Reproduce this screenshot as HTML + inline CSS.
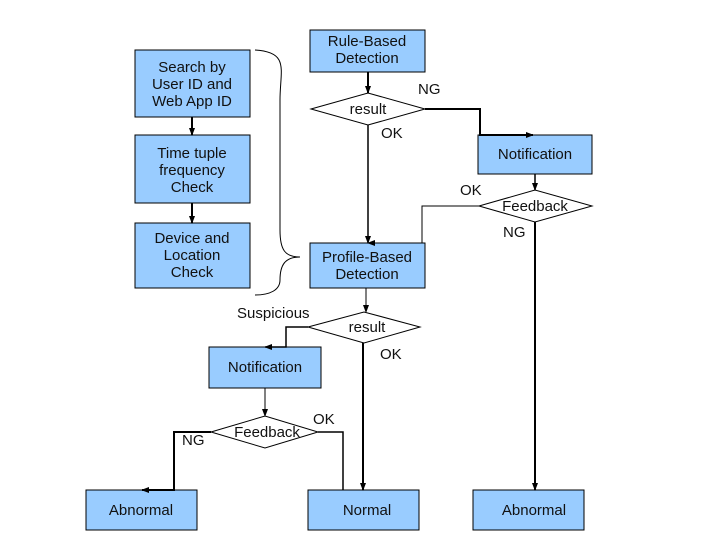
<!DOCTYPE html>
<html><head><meta charset="utf-8"><style>
body{margin:0;background:#fff}
svg text{font-family:"Liberation Sans",sans-serif;font-size:15px;fill:#111}
</style></head><body>
<svg width="720" height="540" viewBox="0 0 720 540" xmlns="http://www.w3.org/2000/svg">
<defs><marker id="a" markerWidth="8" markerHeight="8" refX="7" refY="4" orient="auto" markerUnits="userSpaceOnUse"><path d="M0,1 L8,4 L0,7 z" fill="#000"/></marker></defs>
<g fill="#99ccff" stroke="#000" stroke-width="1">
<rect x="135" y="50" width="115" height="67"/>
<rect x="135" y="135" width="115" height="68"/>
<rect x="135" y="223" width="115" height="65"/>
<rect x="310" y="30" width="115" height="42"/>
<rect x="478" y="135" width="114" height="39"/>
<rect x="310" y="243" width="115" height="45"/>
<rect x="209" y="347" width="112" height="41"/>
<rect x="86" y="490" width="111" height="40"/>
<rect x="308" y="490" width="111" height="40"/>
<rect x="473" y="490" width="111" height="40"/>
</g>
<g fill="#fff" stroke="#000" stroke-width="1">
<polygon points="311,109 368,93 425,109 368,125"/>
<polygon points="479,206 535,190 592,206 535,222"/>
<polygon points="308,327 364,312 420,327 364,343"/>
<polygon points="211,432 265,416 318,432 265,448"/>
</g>
<g fill="none" stroke="#000">
<path d="M192,117 V135" stroke-width="2" marker-end="url(#a)"/>
<path d="M192,203 V223" stroke-width="2" marker-end="url(#a)"/>
<path d="M368,72 V93" stroke-width="2" marker-end="url(#a)"/>
<path d="M425,109 H480 V135 H533" stroke-width="2" marker-end="url(#a)"/>
<path d="M368,125 V243" stroke-width="1.5" marker-end="url(#a)"/>
<path d="M535,174 V190" stroke-width="1.5" marker-end="url(#a)"/>
<path d="M479,206 H422 V243 H368" stroke-width="1" marker-end="url(#a)"/>
<path d="M535,222 V490" stroke-width="2" marker-end="url(#a)"/>
<path d="M366,288 V312" stroke-width="1" marker-end="url(#a)"/>
<path d="M308,327 H286 V347 H265" stroke-width="1.5" marker-end="url(#a)"/>
<path d="M265,388 V416" stroke-width="1" marker-end="url(#a)"/>
<path d="M211,432 H174 V490 H142" stroke-width="2" marker-end="url(#a)"/>
<path d="M318,432 H343 V490" stroke-width="1.5"/>
<path d="M363,343 V490" stroke-width="2" marker-end="url(#a)"/>
<path d="M255,50 C290,52 280,70 280,100 V230 C280,250 285,257 300,257 C285,257 280,265 280,280 C280,290 270,295 255,295" stroke-width="1"/>
</g>
<g text-anchor="middle">
<text x="192" y="72">Search by</text><text x="192" y="89">User ID and</text><text x="192" y="106">Web App ID</text>
<text x="192" y="158">Time tuple</text><text x="192" y="175">frequency</text><text x="192" y="192">Check</text>
<text x="192" y="243">Device and</text><text x="192" y="260">Location</text><text x="192" y="277">Check</text>
<text x="367" y="46">Rule-Based</text><text x="367" y="63">Detection</text>
<text x="368" y="114">result</text>
<text x="535" y="159">Notification</text>
<text x="535" y="211">Feedback</text>
<text x="367" y="262">Profile-Based</text><text x="367" y="279">Detection</text>
<text x="367" y="332">result</text>
<text x="265" y="372">Notification</text>
<text x="267" y="437">Feedback</text>
<text x="141" y="515">Abnormal</text>
<text x="367" y="515">Normal</text>
<text x="534" y="515">Abnormal</text>
</g>
<text x="418" y="94">NG</text>
<text x="381" y="138">OK</text>
<text x="460" y="195">OK</text>
<text x="503" y="237">NG</text>
<text x="237" y="318">Suspicious</text>
<text x="380" y="359">OK</text>
<text x="182" y="445">NG</text>
<text x="313" y="424">OK</text>
</svg>
</body></html>
